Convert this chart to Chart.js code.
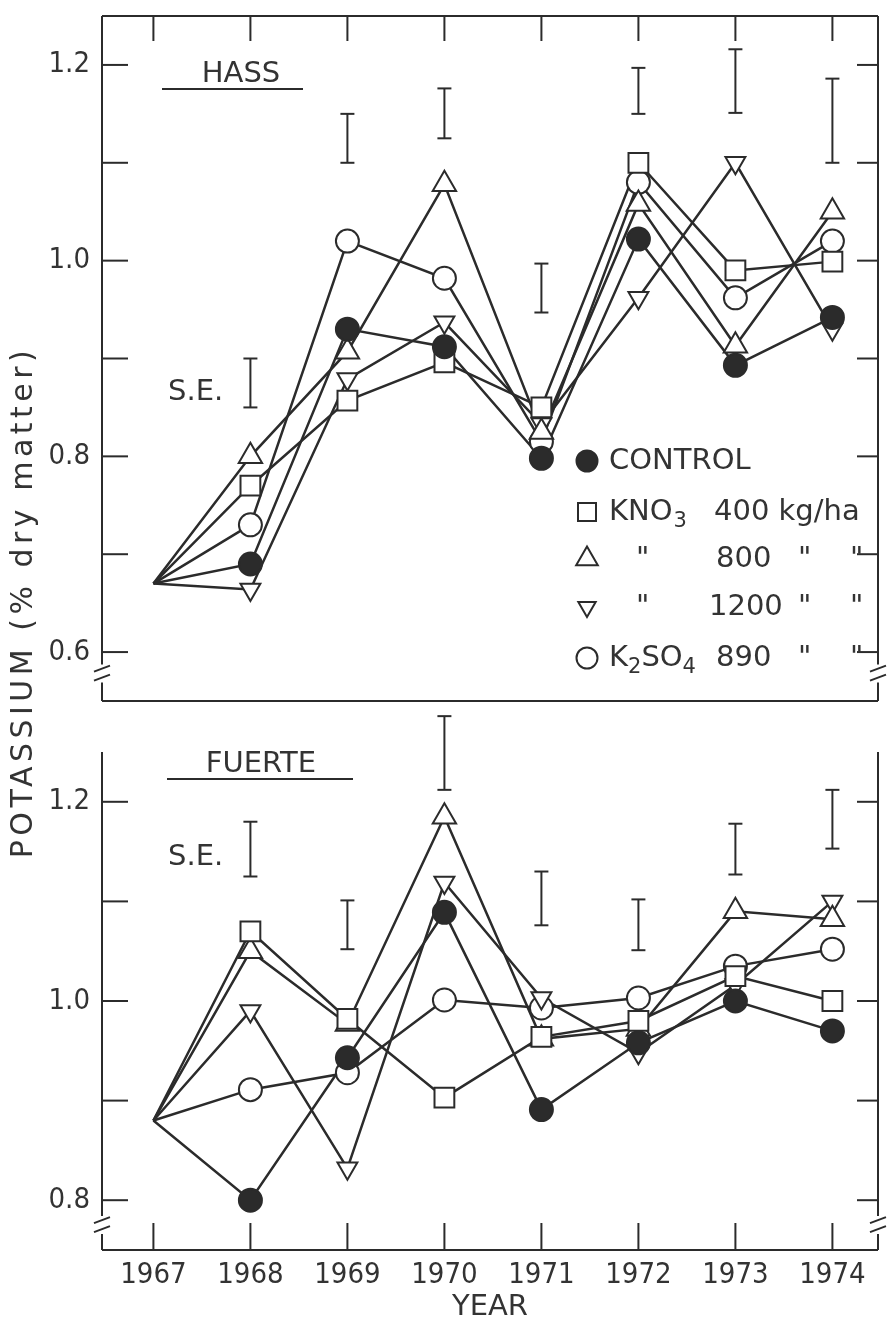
<!DOCTYPE html>
<html>
<head>
<meta charset="utf-8">
<script src="https://cdn.jsdelivr.net/npm/chart.js@4.4.0/dist/chart.umd.min.js"></script>
<style>
  html, body { margin: 0; padding: 0; background: #fff; }
  #wrap { position: relative; width: 894px; height: 1325px; }
  #wrap canvas { position: absolute; left: 0; top: 0; }
</style>
</head>
<body>
<div id="wrap">
  <canvas id="chartHass" width="894" height="1325"></canvas>
  <canvas id="chartFuerte" width="894" height="1325"></canvas>
</div>
<script>
const years = [1967, 1968, 1969, 1970, 1971, 1972, 1973, 1974];

// HASS (upper panel), K % dry matter
const hassControl = [0.67, 0.69, 0.93, 0.912, 0.798, 1.022, 0.893, 0.942];
const hassKno400 = [0.67, 0.77, 0.857, 0.896, 0.85, 1.10, 0.99, 0.999];
const hassKno800 = [0.67, 0.80, 0.907, 1.078, 0.825, 1.058, 0.913, 1.05];
const hassKno1200 = [0.67, 0.664, 0.879, 0.937, 0.833, 0.962, 1.10, 0.93];
const hassK2so4 = [0.67, 0.73, 1.02, 0.982, 0.815, 1.08, 0.962, 1.02];
const hassSeYears = [1968, 1969, 1970, 1971, 1972, 1973, 1974];
const hassSeLow = [0.85, 1.10, 1.125, 0.947, 1.15, 1.151, 1.10];
const hassSeHigh = [0.90, 1.15, 1.176, 0.997, 1.197, 1.216, 1.186];

// FUERTE (lower panel)
const fuerteControl = [0.88, 0.80, 0.943, 1.089, 0.891, 0.958, 1.0, 0.97];
const fuerteKno400 = [0.88, 1.07, 0.982, 0.903, 0.964, 0.98, 1.025, 1.0];
const fuerteKno800 = [0.88, 1.05, 0.977, 1.185, 0.962, 0.972, 1.09, 1.082];
const fuerteKno1200 = [0.88, 0.99, 0.832, 1.119, 1.003, 0.948, 1.016, 1.10];
const fuerteK2so4 = [0.88, 0.911, 0.928, 1.001, 0.993, 1.003, 1.035, 1.052];
const fuerteSeYears = [1968, 1969, 1970, 1971, 1972, 1973, 1974];
const fuerteSeLow = [1.125, 1.052, 1.212, 1.076, 1.051, 1.127, 1.153];
const fuerteSeHigh = [1.18, 1.101, 1.286, 1.13, 1.102, 1.178, 1.212];

const hassYTicks = [0.6, 0.7, 0.8, 0.9, 1.0, 1.1, 1.2];
const hassYLabels = ['0.6', '', '0.8', '', '1.0', '', '1.2'];
const fuerteYTicks = [0.8, 0.9, 1.0, 1.1, 1.2];
const fuerteYLabels = ['0.8', '', '1.0', '', '1.2'];

const ink = '#2b2b2b';
const textInk = '#333';
const textFont = '"DejaVu Sans", sans-serif';
const numFont = '"DejaVu Sans Condensed", "Liberation Sans Narrow", "DejaVu Sans", sans-serif';

const markers = [
  { style: 'circle', r: 11.5, fill: ink, rot: 0 },
  { style: 'rect', r: 14, fill: '#fff', rot: 0 },
  { style: 'triangle', r: 13.5, fill: '#fff', rot: 0 },
  { style: 'triangle', r: 11.5, fill: '#fff', rot: 180 },
  { style: 'circle', r: 11.5, fill: '#fff', rot: 0 }
];

function pts(values) {
  return years.map((yr, i) => ({ x: yr, y: values[i] }));
}

function buildDatasets(series) {
  const lines = series.map(vals => ({
    data: pts(vals), borderColor: ink, borderWidth: 2.5, pointRadius: 0, order: 2
  }));
  const marks = series.map((vals, k) => ({
    data: pts(vals), showLine: false,
    pointStyle: markers[k].style,
    pointRadius: c => c.dataIndex === 0 ? 0 : markers[k].r,
    pointRotation: markers[k].rot,
    pointBackgroundColor: markers[k].fill,
    pointBorderColor: ink, pointBorderWidth: 2, order: 1
  }));
  return lines.concat(marks);
}

function seg(ctx, x1, y1, x2, y2) {
  ctx.beginPath(); ctx.moveTo(x1, y1); ctx.lineTo(x2, y2); ctx.stroke();
}

function legendMark(ctx, k, x, y) {
  const m = markers[k];
  ctx.save();
  ctx.fillStyle = m.fill; ctx.strokeStyle = ink; ctx.lineWidth = 2;
  ctx.beginPath();
  if (m.style === 'circle') {
    ctx.arc(x, y, 10.5, 0, Math.PI * 2);
  } else if (m.style === 'rect') {
    ctx.rect(x - 9, y - 9, 18, 18);
  } else {
    const s = m.rot ? -1 : 1, r = m.rot ? 10 : 12.5;
    ctx.moveTo(x, y - s * r);
    ctx.lineTo(x + r * 0.866, y + s * r * 0.5);
    ctx.lineTo(x - r * 0.866, y + s * r * 0.5);
    ctx.closePath();
  }
  ctx.fill(); ctx.stroke();
  ctx.restore();
}

function decor(cfg) {
  return {
    id: 'panelDecor',
    afterDraw(chart) {
      const { ctx, chartArea: a, scales: { x, y } } = chart;
      ctx.save();
      ctx.strokeStyle = ink; ctx.lineWidth = 2;
      // frame with axis breaks
      const yb = y.getPixelForValue(cfg.breakAt);
      [a.left, a.right].forEach(px => {
        seg(ctx, px, a.top, px, yb - 9);
        seg(ctx, px, yb + 9, px, a.bottom);
        seg(ctx, px - 8, yb - 2, px + 8, yb - 8);
        seg(ctx, px - 8, yb + 7, px + 8, yb + 1);
      });
      seg(ctx, a.left, a.bottom, a.right, a.bottom);
      if (cfg.topFrame) seg(ctx, a.left, a.top, a.right, a.top);
      years.forEach(v => {
        const px = x.getPixelForValue(v);
        if (cfg.topFrame) seg(ctx, px, a.top, px, a.top + 25);
        else seg(ctx, px, a.bottom, px, a.bottom - 27);
      });
      cfg.yTicks.forEach(v => {
        const py = y.getPixelForValue(v);
        seg(ctx, a.left, py, a.left + 26, py);
        seg(ctx, a.right, py, a.right - 21, py);
      });
      // S.E. bars
      cfg.seYears.forEach((yr, i) => {
        const px = x.getPixelForValue(yr);
        const y1 = y.getPixelForValue(cfg.seLow[i]);
        const y2 = y.getPixelForValue(cfg.seHigh[i]);
        seg(ctx, px, y1, px, y2);
        seg(ctx, px - 7, y1, px + 7, y1);
        seg(ctx, px - 7, y2, px + 7, y2);
      });
      // panel title and S.E. label
      ctx.fillStyle = textInk;
      ctx.font = '29px ' + textFont;
      ctx.textBaseline = 'middle';
      ctx.textAlign = 'center';
      ctx.fillText(cfg.title, cfg.titleX, cfg.titleY);
      seg(ctx, cfg.ulX1, cfg.titleY + 15, cfg.ulX2, cfg.titleY + 15);
      ctx.textAlign = 'left';
      ctx.fillText('S.E.', cfg.seTextX, cfg.seTextY);
      if (cfg.extra) cfg.extra(ctx);
      ctx.restore();
    }
  };
}

function drawLegendAndTitle(ctx) {
  ctx.save();
  ctx.fillStyle = textInk;
  ctx.textBaseline = 'middle';
  ctx.textAlign = 'left';
  const big = '29px ' + textFont, small = '21px ' + textFont;
  const rows = [461, 512, 559, 607, 658];
  rows.forEach((ry, k) => legendMark(ctx, k, 587, ry));
  ctx.font = big;
  ctx.fillText('CONTROL', 609, rows[0]);
  // KNO3 400 kg/ha
  ctx.fillText('KNO', 609, rows[1]);
  let w = ctx.measureText('KNO').width;
  ctx.font = small; ctx.fillText('3', 609 + w + 1, rows[1] + 10);
  ctx.font = big;
  ctx.fillText('400 kg/ha', 714, rows[1]);
  ['800', '1200', '890'].forEach((t, j) => {
    const ry = rows[j + 2];
    ctx.font = big;
    if (j < 2) ctx.fillText('"', 636, ry);
    ctx.fillText('"', 798, ry);
    ctx.fillText('"', 850, ry);
    ctx.fillText(t, t.length === 3 ? 716 : 709, ry);
  });
  // K2SO4
  ctx.font = big;
  ctx.fillText('K', 609, rows[4]);
  w = ctx.measureText('K').width;
  ctx.font = small; ctx.fillText('2', 609 + w, rows[4] + 10);
  const w2 = ctx.measureText('2').width;
  ctx.font = big; ctx.fillText('SO', 609 + w + w2, rows[4]);
  const w3 = ctx.measureText('SO').width;
  ctx.font = small; ctx.fillText('4', 609 + w + w2 + w3, rows[4] + 10);
  // shared y-axis title
  ctx.translate(24, 602);
  ctx.rotate(-Math.PI / 2);
  ctx.font = '30px ' + textFont;
  ctx.textAlign = 'center';
  ctx.letterSpacing = '4.5px';
  ctx.fillText('POTASSIUM (% dry matter)', 0, 0);
  ctx.restore();
}

function makeChart(id, cfg) {
  return new Chart(document.getElementById(id), {
    type: 'line',
    data: { datasets: buildDatasets(cfg.series) },
    options: {
      responsive: false,
      animation: false,
      devicePixelRatio: 1,
      layout: { padding: cfg.padding },
      plugins: { legend: { display: false }, tooltip: { enabled: false } },
      scales: {
        x: {
          type: 'linear', min: 1966.47, max: 1974.47,
          display: cfg.showX,
          afterBuildTicks: s => { s.ticks = years.map(v => ({ value: v })); },
          afterFit: s => {
            if (cfg.showX) s.height = 75;
            s.paddingLeft = 0; s.paddingRight = 0;
          },
          grid: { display: false }, border: { display: false },
          ticks: { callback: v => String(v), font: { family: numFont, size: 29 }, color: textInk, padding: 0, maxRotation: 0, autoSkip: false },
          title: { display: true, text: 'YEAR', font: { family: textFont, size: 29 }, color: textInk, padding: { top: 0, bottom: 0 } }
        },
        y: {
          min: cfg.yMin, max: cfg.yMax,
          afterBuildTicks: s => { s.ticks = cfg.yTicks.map(v => ({ value: v })); },
          afterFit: s => { s.width = 102; s.paddingTop = 0; s.paddingBottom = 0; },
          grid: { display: false }, border: { display: false },
          ticks: { callback: (v, i) => cfg.yLabels[i], font: { family: numFont, size: 29 }, color: textInk, padding: 4, autoSkip: false }
        }
      }
    },
    plugins: [decor(cfg)]
  });
}

makeChart('chartHass', {
  series: [hassControl, hassKno400, hassKno800, hassKno1200, hassK2so4],
  yMin: 0.55, yMax: 1.25, yTicks: hassYTicks, yLabels: hassYLabels,
  seYears: hassSeYears, seLow: hassSeLow, seHigh: hassSeHigh,
  padding: { top: 7, right: 7, bottom: 624, left: 0 },
  showX: false, topFrame: true, breakAt: 0.578,
  title: 'HASS', titleX: 241, titleY: 74, ulX1: 162, ulX2: 303,
  seTextX: 168, seTextY: 392,
  extra: drawLegendAndTitle
});

makeChart('chartFuerte', {
  series: [fuerteControl, fuerteKno400, fuerteKno800, fuerteKno1200, fuerteK2so4],
  yMin: 0.75, yMax: 1.25, yTicks: fuerteYTicks, yLabels: fuerteYLabels,
  seYears: fuerteSeYears, seLow: fuerteSeLow, seHigh: fuerteSeHigh,
  padding: { top: 752, right: 7, bottom: 0, left: 0 },
  showX: true, topFrame: false, breakAt: 0.775,
  title: 'FUERTE', titleX: 261, titleY: 764, ulX1: 167, ulX2: 353,
  seTextX: 168, seTextY: 857
});
</script>
</body>
</html>
